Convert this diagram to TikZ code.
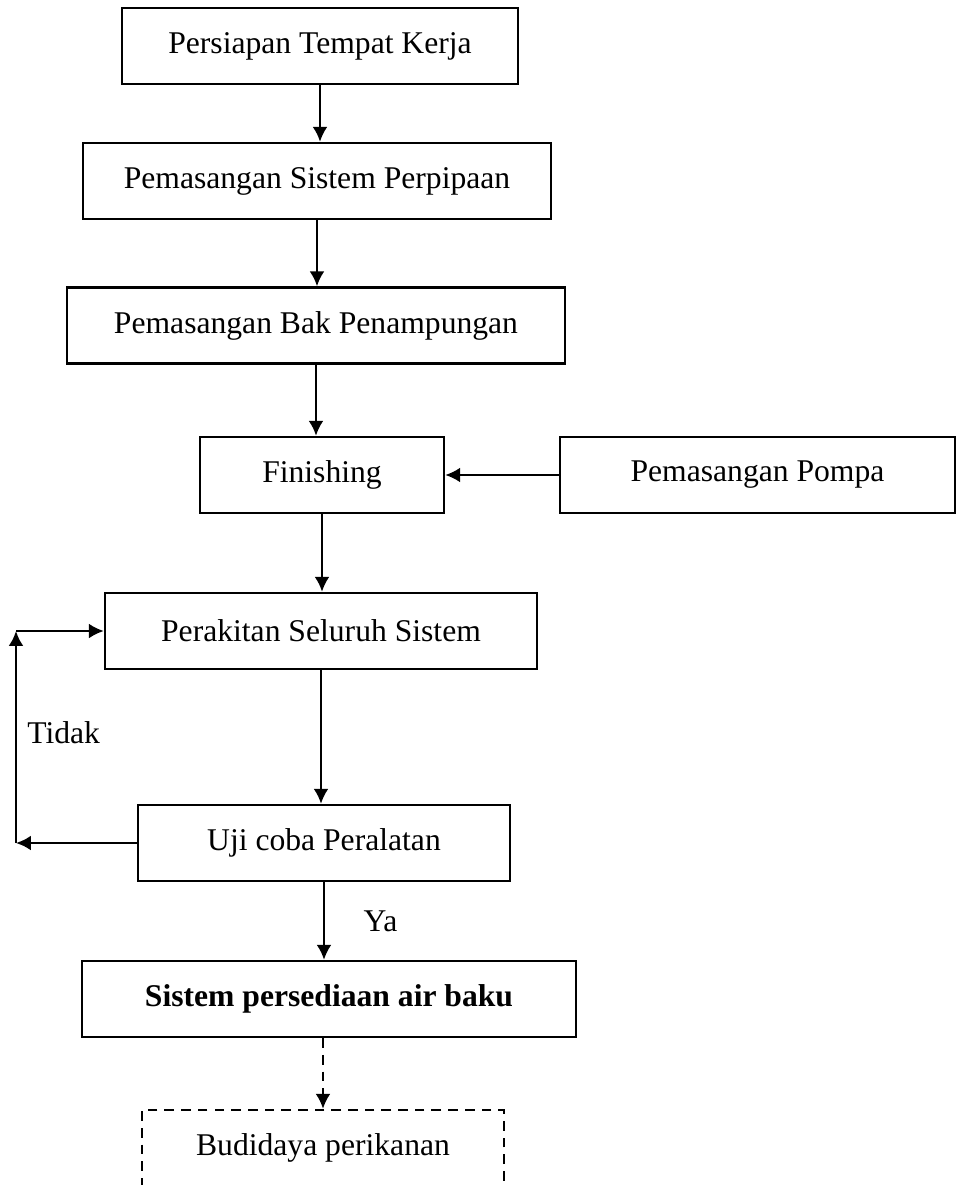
\documentclass[tikz,border=0pt]{standalone}
\usepackage{fontspec}
\setmainfont{Liberation Serif}
\usetikzlibrary{positioning,arrows.meta}

\begin{document}
\begin{tikzpicture}[x=0.02cm,y=-0.02cm,
  kotak/.style={draw,line width=1.4pt,minimum height=1.52cm,inner sep=0pt,font=\fontsize{18}{22}\selectfont},
  panah/.style={->,>={Latex[length=8.5pt,width=8.5pt]},line width=1.4pt},
  putus/.style={dash pattern=on 5.5pt off 4pt}]

\useasboundingbox (0,0) rectangle (956,1185);
\clip (0,0) rectangle (956,1185);

\node[kotak,minimum width=7.92cm] (persiapan) at (320,46) {Persiapan Tempat Kerja};
\node[kotak,minimum width=9.36cm] (perpipaan) at (317,181) {Pemasangan Sistem Perpipaan};
\node[kotak,minimum width=9.96cm] (bak) at (316,325.5) {Pemasangan Bak Penampungan};
\node[kotak,minimum width=4.88cm] (finishing) at (322,475) {Finishing};
\node[kotak,minimum width=7.9cm] (pompa) at (757.5,475) {Pemasangan Pompa};
\node[kotak,minimum width=8.64cm] (perakitan) at (321,631) {Perakitan Seluruh Sistem};
\node[kotak,minimum width=7.44cm] (uji) at (324,843) {Uji coba Peralatan};
\node[kotak,minimum width=9.88cm] (sistem) at (329,999) {\bfseries Sistem persediaan air baku};
\node[kotak,putus,minimum width=7.24cm] (budidaya) at (323,1148) {Budidaya perikanan};

\coordinate (kiribawah) at (16,843);
\coordinate (kiriatas) at (16,631);

\draw[panah] (persiapan.south) -- (persiapan.south |- perpipaan.north);
\draw[panah] (perpipaan.south) -- (perpipaan.south |- bak.north);
\draw[panah] (bak.south) -- (bak.south |- finishing.north);
\draw[panah] (pompa) -- (finishing);
\draw[panah] (finishing.south) -- (finishing.south |- perakitan.north);
\draw[panah] (perakitan.south) -- (perakitan.south |- uji.north);
\draw[panah] (uji.south) -- (uji.south |- sistem.north) node[midway,right,xshift=0.65cm,font=\fontsize{18}{22}\selectfont] (ya) {Ya};
\draw[panah] (uji.west) -- (kiribawah);
\draw[panah] (kiribawah) -- (kiriatas);
\draw[panah] (kiriatas) -- (perakitan.west);
\draw[panah,putus] (budidaya.north |- sistem.south) -- (budidaya.north);

\node[anchor=west,inner sep=0pt,font=\fontsize{18}{22}\selectfont] (tidak) at (27,733) {Tidak};
\end{tikzpicture}
\end{document}
